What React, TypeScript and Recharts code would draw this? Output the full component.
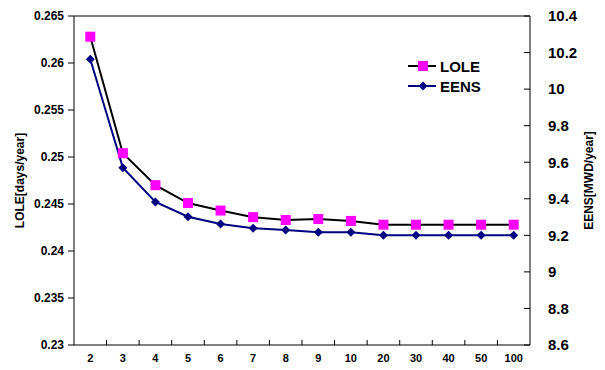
import {
  LineChart,
  Line,
  XAxis,
  YAxis,
  Legend,
  Label,
  ReferenceLine,
} from "recharts";

const categories = ["2", "3", "4", "5", "6", "7", "8", "9", "10", "20", "30", "40", "50", "100"];
const loleValues = [0.2628, 0.2504, 0.247, 0.2451, 0.2443, 0.2436, 0.2433, 0.2434, 0.2432, 0.2428, 0.2428, 0.2428, 0.2428, 0.2428];
const eensValues = [10.163, 9.57, 9.383, 9.302, 9.262, 9.239, 9.229, 9.217, 9.217, 9.2, 9.2, 9.2, 9.2, 9.2];
const loleTicks = [0.23, 0.235, 0.24, 0.245, 0.25, 0.255, 0.26, 0.265];
const eensTicks = [8.6, 8.8, 9, 9.2, 9.4, 9.6, 9.8, 10, 10.2, 10.4];

const data = categories.map((c, i) => ({ cat: c, lole: loleValues[i], eens: eensValues[i] }));

const FONT = "'Liberation Sans', Arial, sans-serif";
const PLOT_W = 456;

const fmt = (v: number) => String(Number(v.toFixed(3)));

function SquareDot(props: any) {
  const { cx, cy } = props;
  if (cx == null || cy == null) return null;
  return <rect x={cx - 5} y={cy - 5} width={10} height={10} fill="#FF00FF" />;
}

function DiamondDot(props: any) {
  const { cx, cy } = props;
  if (cx == null || cy == null) return null;
  return (
    <polygon
      points={`${cx},${cy - 4.5} ${cx + 4.5},${cy} ${cx},${cy + 4.5} ${cx - 4.5},${cy}`}
      fill="#000080"
    />
  );
}

// category ticks sit between the bands, labels at band centers
function XTick(props: any) {
  const { x, y, payload, index } = props;
  const band = PLOT_W / categories.length;
  return (
    <g>
      {index < categories.length - 1 && (
        <line x1={x + band / 2} x2={x + band / 2} y1={y} y2={y - 5} stroke="#000" />
      )}
      <text x={x} y={y + 17} textAnchor="middle" fontSize={11} fontWeight="bold" fill="#000" fontFamily={FONT}>
        {payload.value}
      </text>
    </g>
  );
}

function LegendBox() {
  const rows = [
    { name: "LOLE", color: "#000", marker: <rect x={10} y={1} width={10} height={10} fill="#FF00FF" /> },
    { name: "EENS", color: "#000080", marker: <polygon points="15,1.5 19.5,6 15,10.5 10.5,6" fill="#000080" /> },
  ];
  return (
    <div style={{ fontFamily: FONT }}>
      {rows.map((r) => (
        <div key={r.name} style={{ display: "flex", alignItems: "center", height: 20 }}>
          <svg width={30} height={12} style={{ marginRight: 2 }}>
            <line x1={0} x2={28} y1={6} y2={6} stroke={r.color} strokeWidth={2} />
            {r.marker}
          </svg>
          <span style={{ fontSize: 15, fontWeight: "bold", color: "#000" }}>{r.name}</span>
        </div>
      ))}
    </div>
  );
}

export default function App() {
  const tickStyle = { fontSize: 12, fontWeight: "bold" as const, fill: "#000", fontFamily: FONT };
  return (
    <div style={{ position: "absolute", left: 0, top: 0, width: 605, height: 370, background: "#fff", fontFamily: FONT }}>
      <LineChart width={605} height={370} data={data} margin={{ top: 16, right: 0, bottom: 0, left: 0 }}>
        <XAxis
          dataKey="cat"
          type="category"
          scale="band"
          height={25}
          tickLine={false}
          tickSize={0}
          tickMargin={0}
          interval={0}
          axisLine={{ stroke: "#000" }}
          tick={<XTick />}
        />
        <YAxis
          yAxisId="left"
          orientation="left"
          width={74}
          domain={[0.23, 0.265]}
          ticks={loleTicks}
          tickFormatter={fmt}
          tickSize={6}
          tickMargin={4}
          tick={tickStyle}
          axisLine={{ stroke: "#000" }}
          tickLine={{ stroke: "#000" }}
          allowDataOverflow
        >
          <Label
            value="LOLE[days/year]"
            angle={-90}
            position="center"
            dx={-17}
            style={{ fontSize: 12, fontWeight: "bold", fill: "#000", fontFamily: FONT }}
          />
        </YAxis>
        <YAxis
          yAxisId="right"
          orientation="right"
          width={75}
          domain={[8.6, 10.4]}
          ticks={eensTicks}
          tickFormatter={fmt}
          tickSize={-6}
          tickMargin={24}
          tick={{ ...tickStyle, fontSize: 15 }}
          axisLine={{ stroke: "#000" }}
          tickLine={{ stroke: "#000" }}
          allowDataOverflow
        >
          <Label
            value="EENS[MWD/year]"
            angle={-90}
            position="center"
            dx={21}
            style={{ fontSize: 12, fontWeight: "bold", fill: "#000", fontFamily: FONT }}
          />
        </YAxis>
        <ReferenceLine yAxisId="left" y={0.265} stroke="#000" />
        <Legend
          layout="vertical"
          align="center"
          verticalAlign="middle"
          content={<LegendBox />}
          wrapperStyle={{ position: "absolute", left: 408, top: 56, width: "auto", height: "auto" }}
        />
        <Line
          yAxisId="right"
          dataKey="eens"
          name="EENS"
          stroke="#000080"
          strokeWidth={2}
          dot={<DiamondDot />}
          activeDot={false}
          isAnimationActive={false}
        />
        <Line
          yAxisId="left"
          dataKey="lole"
          name="LOLE"
          stroke="#000"
          strokeWidth={2}
          dot={<SquareDot />}
          activeDot={false}
          isAnimationActive={false}
        />
      </LineChart>
    </div>
  );
}
